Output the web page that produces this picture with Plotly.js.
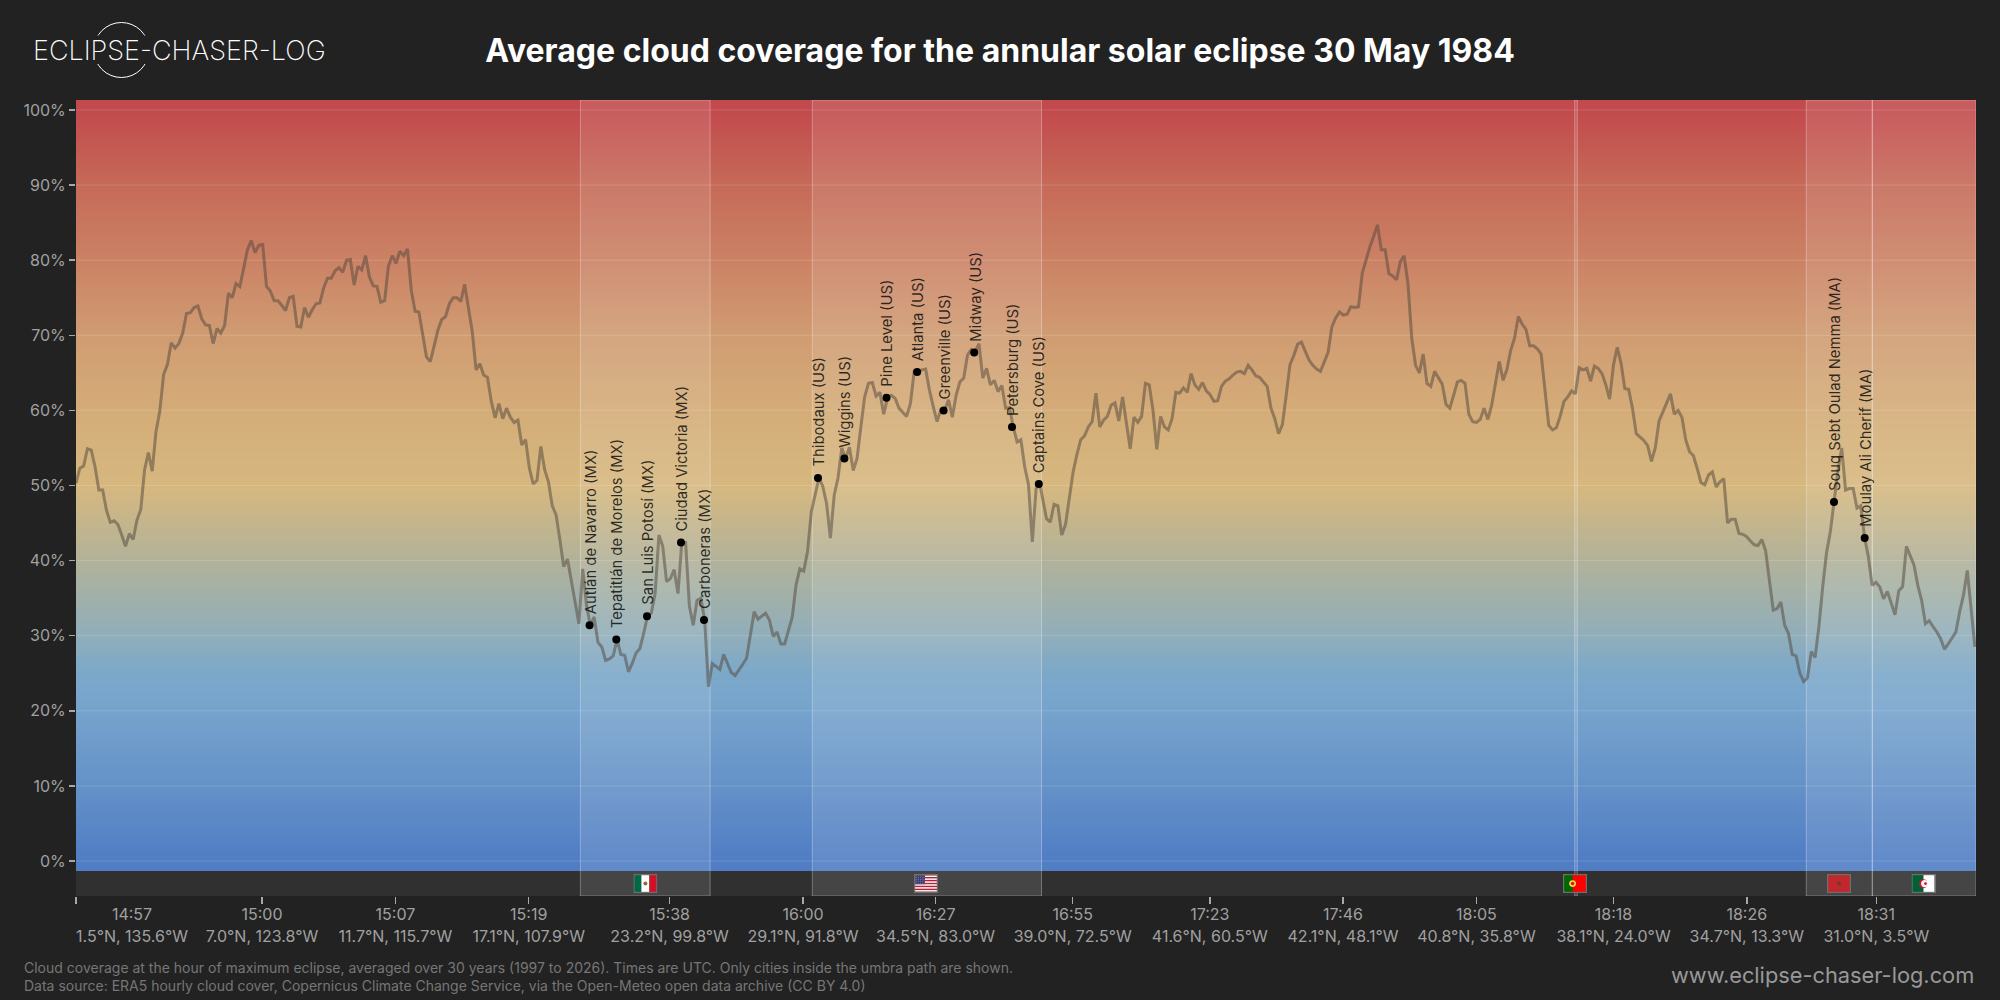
<!DOCTYPE html>
<html><head><meta charset="utf-8">
<script src="https://cdn.plot.ly/plotly-3.0.1.min.js"></script>
<style>html,body{margin:0;padding:0;background:#222222}#c{width:2000px;height:1000px}</style>
</head><body><div id="c"></div>
<script>
const cloudWest=[50.3,52.3,52.6,54.9,54.7,52.5,49.4,49.4,46.7,45.1,45.3,44.8,43.4,41.9,43.6,42.8,45.4,46.8,52.1,54.4,51.9,57.2,59.9,64.8,66.1,69.0,68.3,68.9,70.3,72.9,73.0,73.7,73.9,72.2,71.4,71.3,68.9,70.9,70.3,71.3,75.6,75.0,76.9,76.5,78.9,81.4,82.6,81.0,82.0,82.1,76.5,75.9,74.6,74.6,74.0,73.3,75.0,75.2,71.2,71.1,73.7,72.4,73.4,74.2,74.3,76.3,77.6,77.6,78.6,79.0,78.4,80.0,80.1,76.7,79.2,78.7,80.6,77.8,76.6,76.5,74.4,74.6,79.2,80.6,79.6,81.2,80.6,81.5,76.0,73.2,73.1,70.1,67.1,66.5,68.5,70.7,72.1,72.5,74.2,75.0,75.0,74.5,76.8,73.6,70.5,65.4,66.2,64.7,64.4,61.2,59.0,60.9,58.9,60.3,59.1,58.4,58.7,55.4,56.1,52.3,50.2,50.7,55.2,52.1,50.5,47.3,46.1,42.8,39.2,40.2,37.4,34.3,31.6,38.9,34.0,31.4,32.5,29.1,28.5,26.7,26.9,27.3,29.5,27.5,27.4,25.2,26.3,27.7,28.3,30.3,32.6,33.0,35.6,43.4,41.9,37.2,37.6,38.8,35.6,42.4,42.4,33.9,31.4,34.7,35.0,32.1,23.2,26.3,25.9,25.5,27.5,26.2,25.1,24.7,25.4,26.2,27.0,29.9,33.2,32.2,32.6,33.0,32.1,29.9,30.5,28.9,28.9,30.8,32.5,36.8,38.9,38.6,41.2,46.5,49.0,51.0,49.9,47.6,43.0,48.7,51.0,55.0,53.6,55.1,52.0,53.6,57.8,61.8,63.6,63.7,61.9,62.4,59.5,61.7,62.0,61.6,60.3,59.8,59.2,60.9,65.2,65.1,65.4,65.5,62.7,60.5,58.5,60.1,60.0,61.4,59.1,62.0,63.8,64.3,67.4,68.1,67.8,68.9,64.3,65.6,63.4,64.0,62.5,63.3,60.3,60.4,57.8,55.8,56.1,52.5,50.1,42.5,49.6,50.1];
const cloudEast=[48.3,45.6,45.1,47.5,47.3,43.4,44.8,48.5,51.8,54.1,56.1,56.6,57.8,58.5,62.3,57.8,58.7,59.2,60.7,61.0,58.6,61.8,58.3,54.9,59.1,58.4,59.2,63.6,63.4,60.0,54.8,59.2,57.8,57.4,58.9,62.4,62.3,63.0,62.4,64.9,63.4,62.8,63.7,62.6,62.1,61.2,61.3,63.2,63.9,64.2,64.7,65.1,65.2,64.9,66.0,65.4,64.6,64.4,63.8,63.2,60.3,58.9,56.9,58.1,62.0,66.1,67.3,68.8,69.1,67.8,66.7,66.0,65.5,65.2,66.5,67.7,71.1,72.3,73.1,72.7,72.8,73.8,73.7,73.8,78.3,80.1,81.8,83.2,84.7,81.4,81.4,78.2,77.9,77.4,79.8,80.6,76.9,69.6,66.0,65.0,67.5,63.6,63.2,65.2,64.4,63.5,60.8,60.3,62.0,63.8,64.0,63.6,59.5,58.5,58.4,58.8,60.3,58.8,60.7,63.6,66.5,64.0,65.4,68.0,69.6,72.5,71.5,70.8,68.6,68.6,68.2,67.5,62.7,58.0,57.4,57.7,59.2,61.2,61.8,62.6,62.2,65.7,65.4,65.6,63.9,65.9,65.6,64.9,63.4,61.5,66.0,68.4,66.3,62.9,62.8,60.3,56.9,56.4,56.0,55.3,53.2,55.0,58.6,59.8,61.0,62.2,59.5,60.0,59.1,56.1,54.5,54.0,52.3,50.4,50.1,51.4,51.8,49.8,50.5,50.9,45.0,45.5,45.5,43.6,43.5,43.2,42.6,42.1,42.0,42.8,41.3,37.2,33.4,33.6,34.5,31.4,30.3,27.5,27.3,25.0,23.9,24.4,27.9,27.1,31.2,36.5,41.0,43.8,47.8,52.0,55.0,49.4,49.6,49.6,47.0,47.3,43.1,40.5,36.7,37.1,36.5,34.9,35.9,34.2,32.8,36.0,36.5,41.9,40.7,39.4,36.7,34.7,31.6,32.0,31.2,30.5,29.6,28.2,28.9,29.8,30.5,33.2,35.4,38.7,33.6,28.5];
const westStep=3.81, eastStart=966.67, eastStep=3.805, trackEnd=1900;

const cityNames=["Autlán de Navarro (MX)","Tepatitlán de Morelos (MX)","San Luis Potosí (MX)","Ciudad Victoria (MX)","Carboneras (MX)","Thibodaux (US)","Wiggins (US)","Pine Level (US)","Atlanta (US)","Greenville (US)","Midway (US)","Petersburg (US)","Captains Cove (US)","Souq Sebt Oulad Nemma (MA)","Moulay Ali Cherif (MA)"];
const cityTrack=[513.6,540.3,571,605,628,742,768.4,810.5,841.1,867.6,898.2,936,962.8,1758,1788.7];
const cityCloud=[31.4,29.5,32.6,42.4,32.1,51.0,53.6,61.7,65.1,60.0,67.7,57.8,50.2,47.8,43.0];

const tickTrack=[0,186,319.4,452.7,593.6,727,859.6,996.7,1133.8,1267,1400.4,1537.5,1670.8,1800.3];
const tickTimes=["14:57","15:00","15:07","15:19","15:38","16:00","16:27","16:55","17:23","17:46","18:05","18:18","18:26","18:31"];
const tickCoords=["1.5°N, 135.6°W","7.0°N, 123.8°W","11.7°N, 115.7°W","17.1°N, 107.9°W","23.2°N, 99.8°W","29.1°N, 91.8°W","34.5°N, 83.0°W","39.0°N, 72.5°W","41.6°N, 60.5°W","42.1°N, 48.1°W","40.8°N, 35.8°W","38.1°N, 24.0°W","34.7°N, 13.3°W","31.0°N, 3.5°W"];
const firstLabelTrack=56;
const yTicks=[0,10,20,30,40,50,60,70,80,90,100];
const yLabels=["0%","10%","20%","30%","40%","50%","60%","70%","80%","90%","100%"];
const gradLevels=[-10,0,10,20,30,40,50,60,70,80,90,100,110];
const gradStops=[[0,"#507dc4"],[0.1,"#6491c8"],[0.2,"#76a3cc"],[0.25,"#7ba8c9"],[0.3,"#90aebb"],[0.4,"#b1b29a"],[0.5,"#d6b87f"],[0.6,"#d4ac78"],[0.7,"#d09c72"],[0.8,"#cb8265"],[0.9,"#c66a58"],[1,"#c24a4d"]];

const countries=[
 {code:"MX",from:504.4,to:634.1,flag:569.4},
 {code:"US",from:736.3,to:965.5,flag:850},
 {code:"PT",from:1498.7,to:1501.3,flag:1499},
 {code:"MA",from:1730.3,to:1796.3,flag:1763},
 {code:"DZ",from:1796.3,to:1900,flag:1847.5}];
const yMin=-4.66,yMax=101.33,heatFloor=-1.33;

function svg(body){return "data:image/svg+xml;base64,"+btoa('<svg xmlns="http://www.w3.org/2000/svg" width="96" height="76" viewBox="0 0 24 19">'+body+'<rect x="0.6" y="0.6" width="22.8" height="17.8" fill="none" stroke="#6e6e6e" stroke-width="1.2"/></svg>');}
function usFlag(){let s='<rect width="24" height="19" fill="#fff"/>';for(let i=0;i<7;i++)s+='<rect y="'+(i*2.92)+'" width="24" height="1.46" fill="#b22234"/>';s+='<rect width="11" height="10.2" fill="#3c3b6e"/>';for(let r=0;r<5;r++)for(let c=0;c<6;c++)s+='<circle cx="'+(1+c*1.8)+'" cy="'+(1.2+r*1.95)+'" r=".35" fill="#fff"/>';return s;}
const flagArt={
 MX:'<rect width="8" height="19" fill="#006847"/><rect x="8" width="8" height="19" fill="#fff"/><rect x="16" width="8" height="19" fill="#ce1126"/><circle cx="12" cy="9.5" r="2" fill="#8c6a3a"/>',
 US:usFlag(),
 PT:'<rect width="24" height="19" fill="#ff0000"/><rect width="9.6" height="19" fill="#006600"/><circle cx="9.6" cy="9.5" r="3.4" fill="#ffd83d"/><circle cx="9.6" cy="9.5" r="1.8" fill="#d01c1f"/>',
 MA:'<rect width="24" height="19" fill="#c1272d"/><circle cx="12" cy="9.5" r="2" fill="#6b3a2a"/>',
 DZ:'<rect width="12" height="19" fill="#006233"/><rect x="12" width="12" height="19" fill="#fff"/><circle cx="12" cy="9.5" r="4.4" fill="#d21034"/><circle cx="13.2" cy="9.5" r="3.6" fill="#fff" fill-opacity="0.95"/><circle cx="14" cy="9.5" r="1.4" fill="#d21034"/>'};

// px helpers for page furniture
const PL=76,PR=1976,PT=100,PB=896;
const px=x=>(x-PL)/(PR-PL), py=y=>(PB-y)/(PB-PT);

const lineX=[],lineY=[];
cloudWest.forEach((v,i)=>{lineX.push(i*westStep);lineY.push(v);});
cloudEast.forEach((v,i)=>{lineX.push(eastStart+i*eastStep);lineY.push(v);});

const gridX=[],gridY=[];
yTicks.forEach(t=>{gridX.push(0,trackEnd,null);gridY.push(t,t,null);});

const traces=[
 {type:"heatmap",x:[0,trackEnd],y:gradLevels,z:gradLevels.map(v=>[v,v]),zmin:0,zmax:100,colorscale:gradStops,zsmooth:"best",showscale:false,hoverinfo:"skip",xaxis:"x",yaxis:"y"},
 {type:"scatter",mode:"lines",x:[0,trackEnd,trackEnd,0,0],y:[yMin,yMin,heatFloor,heatFloor,yMin],fill:"toself",fillcolor:"#303030",line:{width:0},hoverinfo:"skip",showlegend:false,xaxis:"x",yaxis:"y"},
 {type:"scatter",mode:"lines",x:gridX,y:gridY,line:{color:"rgba(255,255,255,0.15)",width:1},hoverinfo:"skip",showlegend:false,xaxis:"x2",yaxis:"y"}
];
countries.forEach(c=>traces.push({type:"scatter",mode:"lines",x:[c.from,c.from,c.to,c.to,c.from],y:[yMin,yMax,yMax,yMin,yMin],fill:"toself",fillcolor:"rgba(255,255,255,0.1)",line:{color:"rgba(255,255,255,0.3)",width:1},name:c.code,hoverinfo:"skip",showlegend:false,xaxis:"x3",yaxis:"y"}));
traces.push({type:"scatter",mode:"lines",x:lineX,y:lineY,line:{color:"rgba(85,72,62,0.52)",width:3},hoverinfo:"skip",showlegend:false,xaxis:"x3",yaxis:"y"});
traces.push({type:"scatter",mode:"markers",x:cityTrack,y:cityCloud,text:cityNames,marker:{color:"#000",size:8},hoverinfo:"text",showlegend:false,xaxis:"x3",yaxis:"y"});

const F="Inter, sans-serif";
const base={range:[0,trackEnd],showgrid:false,zeroline:false,showline:false,fixedrange:true};
const labelPos=[firstLabelTrack].concat(tickTrack.slice(1));
const annotations=cityNames.map((n,i)=>({x:cityTrack[i],y:cityCloud[i],xref:"x3",yref:"y",text:n,textangle:-90,showarrow:false,xanchor:"center",yanchor:"bottom",xshift:1,yshift:9,font:{family:F,size:14.8,color:"rgba(15,15,15,0.85)"}}));
annotations.push(
 {xref:"paper",yref:"paper",x:px(22),y:py(967),xanchor:"left",yanchor:"middle",showarrow:false,text:"Cloud coverage at the hour of maximum eclipse, averaged over 30 years (1997 to 2026). Times are UTC. Only cities inside the umbra path are shown.",font:{family:F,size:14,color:"#767676"}},
 {xref:"paper",yref:"paper",x:px(22),y:py(985),xanchor:"left",yanchor:"middle",showarrow:false,text:"Data source: ERA5 hourly cloud cover, Copernicus Climate Change Service, via the Open-Meteo open data archive (CC BY 4.0)",font:{family:F,size:14,color:"#767676"}},
 {xref:"paper",yref:"paper",x:px(1976),y:py(975),xanchor:"right",yanchor:"middle",showarrow:false,text:"www.eclipse-chaser-log.com",font:{family:F,size:21.8,color:"#999999"}},
 {xref:"paper",yref:"paper",x:px(31),y:py(50),xanchor:"left",yanchor:"middle",showarrow:false,text:"ECLIPSE-CHASER-LOG",font:{family:F,size:27,weight:200,color:"#ffffff"}}
);
const layout={
 width:2000,height:1000,autosize:false,paper_bgcolor:"#222222",plot_bgcolor:"#222222",showlegend:false,
 margin:{l:PL,r:2000-PR,t:PT,b:1000-PB,pad:0},
 title:{text:"Average cloud coverage for the annular solar eclipse 30 May 1984",x:0.5,xanchor:"center",xref:"container",y:1-51/1000,yanchor:"middle",yref:"container",font:{family:F,size:32,weight:700,color:"#ffffff"}},
 xaxis:Object.assign({},base,{tickmode:"array",tickvals:tickTrack,ticktext:tickTrack.map(()=>""),ticks:"outside",ticklen:7,tickwidth:1.5,tickcolor:"#a8a8a8"}),
 xaxis2:Object.assign({},base,{overlaying:"x",anchor:"y",side:"bottom",tickmode:"array",tickvals:labelPos,ticktext:tickTimes,ticks:"outside",ticklen:4,tickwidth:1,tickcolor:"rgba(0,0,0,0)",tickangle:0,tickfont:{family:F,size:16,color:"#a0a0a0"}}),
 xaxis3:Object.assign({},base,{overlaying:"x",anchor:"y",side:"bottom",tickmode:"array",tickvals:labelPos,ticktext:tickCoords,ticks:"outside",ticklen:26,tickwidth:1,tickcolor:"rgba(0,0,0,0)",tickangle:0,tickfont:{family:F,size:16,color:"#a0a0a0"}}),
 yaxis:{range:[yMin,yMax],tickmode:"array",tickvals:yTicks,ticktext:yLabels,ticks:"outside",ticklen:6,tickwidth:1.5,tickcolor:"#a8a8a8",showgrid:false,zeroline:false,showline:false,fixedrange:true,tickfont:{family:F,size:16,color:"#a0a0a0"}},
 shapes:[
  {type:"circle",xref:"paper",yref:"paper",x0:px(93.9),x1:px(148.9),y0:py(77.5),y1:py(22.5),line:{color:"#ffffff",width:1},layer:"above"},
  {type:"rect",xref:"paper",yref:"paper",x0:px(85),x1:px(158),y0:py(64),y1:py(35.5),fillcolor:"#222222",line:{width:0},layer:"above"}
 ],
 annotations:annotations,
 images:countries.map(c=>({source:svg(flagArt[c.code]),xref:"x",yref:"y",x:c.flag,y:-3,sizex:24,sizey:2.53,xanchor:"center",yanchor:"middle",sizing:"stretch",layer:"above"}))
};
Plotly.newPlot("c",traces,layout,{displayModeBar:false,staticPlot:true});
</script></body></html>
